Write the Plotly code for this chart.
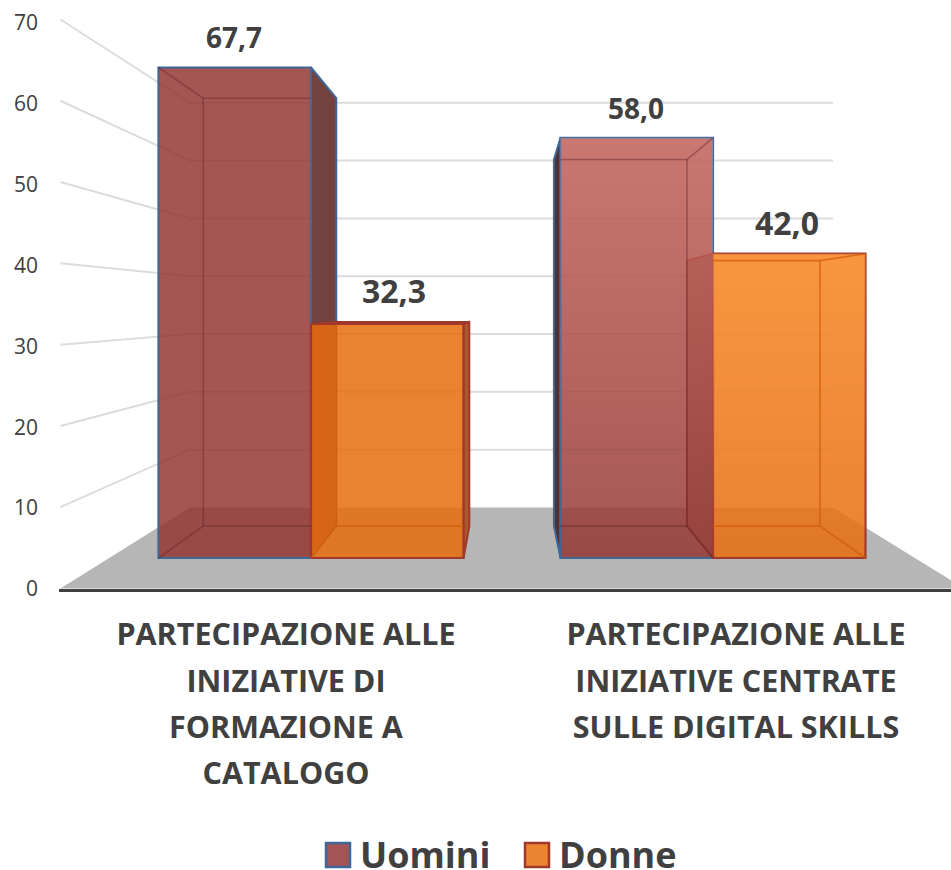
import numpy as np
import plotly.graph_objects as go

# ---- data ----
categories = ["PARTECIPAZIONE ALLE<br>INIZIATIVE DI<br>FORMAZIONE A<br>CATALOGO",
              "PARTECIPAZIONE ALLE<br>INIZIATIVE CENTRATE<br>SULLE DIGITAL SKILLS"]
uomini = [67.7, 58.0]
donne = [32.3, 42.0]
series_names = ["Uomini", "Donne"]
y_ticks = [0, 10, 20, 30, 40, 50, 60, 70]
label_text_uomini = ["67,7", "58,0"]
label_text_donne = ["32,3", "42,0"]

W, H = 951, 870
ML, MT, MB = 59, 0, 281
PW, PH = W - ML, H - MT - MB
BASE_PX, UNIT_PX = 558.0, 7.245    # bar plane: pixel of value 0, pixels per unit
X0_PX, CAT_PX = 311.0, 402.0       # bar plane: pixel of category 0, pixels per category
VX = (509 - X0_PX) / CAT_PX
VY = (BASE_PX - 308) / UNIT_PX
BW = 152.5 / CAT_PX
S_BOX, S_WALL_BACK, S_WALL_FRONT = 0.8723, 0.798, 1.122
WALL_L, WALL_R = (109.2 - X0_PX) / CAT_PX, (915 - X0_PX) / CAT_PX

DARK = "#404040"
GRID = "#dcdcdc"

def proj(x, y, s):
    return VX + s * (x - VX), VY + s * (y - VY)

xr = [(ML - X0_PX) / CAT_PX, (W - X0_PX) / CAT_PX]
yr = [(BASE_PX - (MT + PH)) / UNIT_PX, BASE_PX / UNIT_PX]

fig = go.Figure()

def poly(xs, ys, sub, fill=None, line=None, width=0, gradient=None):
    kw = {}
    if fill or gradient:
        kw["fill"] = "toself"
        if fill:
            kw["fillcolor"] = fill
        if gradient:
            kw["fillgradient"] = gradient
    fig.add_trace(go.Scatter(x=xs, y=ys, mode="lines", xaxis="x" + sub, yaxis="y" + sub,
                             line=dict(color=line or "rgba(0,0,0,0)", width=width),
                             showlegend=False, hoverinfo="skip", **kw))

# base axes: tick labels only
fig.add_trace(go.Scatter(x=[0, 1], y=[0, 0], mode="markers", marker=dict(opacity=0),
                         showlegend=False, hoverinfo="skip"))

# floor
fl = [proj(WALL_L, 0, S_WALL_FRONT), proj(WALL_L, 0, S_WALL_BACK),
      proj(WALL_R, 0, S_WALL_BACK), proj(WALL_R, 0, S_WALL_FRONT)]
poly([p[0] for p in fl] + [fl[0][0]], [p[1] for p in fl] + [fl[0][1]], "2", fill="#b6b6b6")

# walls' gridlines
for t in y_ticks[1:]:
    a = proj(WALL_L, t, S_WALL_FRONT)
    b = proj(WALL_L, t, S_WALL_BACK)
    c = proj(WALL_R, t, S_WALL_BACK)
    poly([a[0], b[0], c[0]], [a[1], b[1], c[1]], "2", line=GRID, width=2)

bars = [(0 - BW, uomini[0], 0), (0, donne[0], 1), (1 - BW, uomini[1], 0), (1, donne[1], 1)]
side_fill = ["rgb(115,65,62)", "rgb(170,90,40)", "rgb(80,50,52)", "rgb(165,135,125)"]
top_fill = [None, "rgb(165,75,40)", None, None]
edge = ["#3f6797", "#a1382c"]
inner = ["rgba(95,35,42,0.42)", "rgba(205,90,8,0.7)"]

for (x0, v, sid), sf, tf in zip(bars, side_fill, top_fill):
    x1 = x0 + BW
    xs = x1 if x1 < VX + 0.2 and x0 < VX - 0.1 else x0
    # visible inner side face
    a, b = proj(xs, v, S_BOX), proj(xs, 0, S_BOX)
    poly([xs, a[0], b[0], xs, xs], [v, a[1], b[1], 0, v], "3", fill=sf, line=edge[sid], width=2)
    if tf:
        p, q = proj(x0, v, S_BOX), proj(x1, v, S_BOX)
        poly([x0, p[0], q[0], x1, x0], [v, p[1], q[1], v, v], "3", fill=tf, line=edge[sid], width=2)

# front faces, through the library's bars
colors = ["rgba(147,52,48,0.83)", "rgba(232,108,14,0.85)"]
for name, vals, off, col, ed in zip(series_names, [uomini, donne], [-BW, 0], colors, edge):
    fig.add_trace(go.Bar(x=[0, 1], y=vals, width=BW, offset=off, name=name, xaxis="x4", yaxis="y4",
                         marker=dict(color=col, line=dict(color=ed, width=2.2)),
                         showlegend=False, hoverinfo="skip"))

# lighter top of the second group's bars
poly([1 - BW, 1, 1, 1 - BW, 1 - BW], [uomini[1], uomini[1], 0, 0, uomini[1]], "4",
     gradient=dict(type="vertical", colorscale=[[0, "rgba(255,160,150,0)"], [1, "rgba(255,165,155,0.42)"]]))
poly([1, 1 + BW, 1 + BW, 1, 1], [donne[1], donne[1], 0, 0, donne[1]], "4",
     gradient=dict(type="vertical", colorscale=[[0, "rgba(255,160,70,0)"], [1, "rgba(255,160,70,0.65)"]]))

# inner edges seen through the front faces
for (x0, v, sid) in bars:
    x1 = x0 + BW
    col = inner[sid]
    for xf, yf in [(x0, v), (x1, v), (x1, 0), (x0, 0)]:
        bx, by = proj(xf, yf, S_BOX)
        if x0 <= bx <= x1 and by <= v:
            poly([xf, bx], [yf, by], "4", line=col, width=1.6)
    blx, bty = proj(x0, v, S_BOX)
    brx, bby = proj(x1, 0, S_BOX)
    cl, cr = max(blx, x0), min(brx, x1)
    if bty <= v:
        poly([cl, cr], [bty, bty], "4", line=col, width=1.6)
    poly([cl, cr], [bby, bby], "4", line=col, width=1.6)
    for xb in (blx, brx):
        if x0 < xb < x1:
            poly([xb, xb], [bby, min(bty, v)], "4", line=col, width=1.6)

# data labels
annos = []
label_sizes = [28, 32, 28, 32]
label_dx = [-1, 7, -1, -2]
label_dy = [31, 33, 30, 31]
for (x0, v, sid), txt, fs, dx, dy in zip(bars, [label_text_uomini[0], label_text_donne[0], label_text_uomini[1], label_text_donne[1]],
                                         label_sizes, label_dx, label_dy):
    annos.append(dict(x=x0 + BW / 2, y=v, xref="x4", yref="y4", text=txt, showarrow=False,
                      xshift=dx, yshift=dy, yanchor="middle",
                      font=dict(family="Open Sans", size=fs, color=DARK, weight=700)))

# legend row
shapes = []
for name, col, ed, sx, tx in zip(series_names, ["#a45452", "#eb8330"], edge, [326, 525], [358, 557]):
    shapes.append(dict(type="rect", xref="paper", yref="paper",
                       x0=(sx - ML) / PW, x1=(sx + 24 - ML) / PW,
                       y0=(PH - (867 - MT)) / PH, y1=(PH - (843 - MT)) / PH,
                       fillcolor=col, line=dict(color=ed, width=2.5)))
    annos.append(dict(xref="paper", yref="paper", x=(tx - ML) / PW, y=(PH - (854 - MT)) / PH,
                      xanchor="left", yanchor="middle", text=name, showarrow=False, height=30,
                      font=dict(family="Open Sans", size=36, color=DARK, weight=700)))

line_font_px = 30.5
tick_text = ['<span style="font-size:%gpx">%s</span>' % (line_font_px, s.replace("<br>", '</span><br><span style="font-size:%gpx">' % line_font_px))
             for s in categories]

hidden = dict(visible=False, showgrid=False, zeroline=False, fixedrange=True)
layout = dict(
    width=W, height=H, margin=dict(l=ML, r=0, t=MT, b=MB, pad=0),
    paper_bgcolor="white", plot_bgcolor="rgba(0,0,0,0)", barmode="overlay",
    font=dict(family="Open Sans", color=DARK), showlegend=False,
    xaxis=dict(range=[(59 - 61) / 450 - 0.5, (951 - 61) / 450 - 0.5], tickmode="array", tickvals=[0, 1],
               ticktext=tick_text, showgrid=False, zeroline=False, showline=True, linecolor=DARK, linewidth=3,
               ticks="", tickangle=0, ticklabelstandoff=11,
               tickfont=dict(family="Open Sans", size=35.4, color=DARK, weight=700)),
    yaxis=dict(range=[0, PH / 8.09], tickmode="array", tickvals=y_ticks, ticktext=[str(t) for t in y_ticks],
               showgrid=False, zeroline=False, showline=False, ticks="", ticklabelstandoff=20,
               tickfont=dict(family="Open Sans", size=21, color=DARK)),
    shapes=shapes, annotations=annos,
)
for n in ("2", "3", "4"):
    layout["xaxis" + n] = dict(hidden, range=xr, overlaying="x")
    layout["yaxis" + n] = dict(hidden, range=yr, overlaying="y")
fig.update_layout(**layout)

fig.write_html("out.html", config=dict(displayModeBar=False),
               post_script="document.body.style.margin='0';document.body.style.overflow='hidden';")
